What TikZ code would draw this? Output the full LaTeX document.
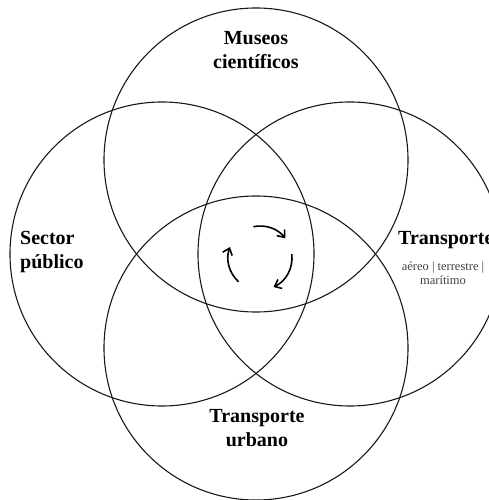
\documentclass[tikz,border=0pt]{standalone}
\usepackage{fontspec}
\setmainfont{Liberation Serif}
\usetikzlibrary{arrows.meta}

\tikzset{
  venn/.style={draw=black!90, line width=1.1pt, circle, minimum size=304pt, inner sep=0pt},
  titel/.style={font=\bfseries\fontsize{20}{24}\selectfont, align=center, inner sep=0pt},
  sublabel/.style={font=\fontsize{12.5}{14}\selectfont, text=black!75, align=center, inner sep=0pt},
  flecha/.style={line width=1.6pt, -{Straight Barb[length=6pt,width=10pt]}}
}

\begin{document}
\begin{tikzpicture}[x=1pt,y=1pt]
\useasboundingbox (0,0) rectangle (489,500);
\foreach \nm/\xa/\ya in {museos/256/340, sector/162/246, transp/350/246, urbano/256/152} {
	\node[venn] (c\nm) at (\xa,\ya) {};
}

\node[titel] (lmuseos) at (256,450) {Museos\\científicos};
\node[titel, align=left, anchor=west] (lsector) at (20,248) {Sector\\público};
\node[titel, anchor=west] (ltransp) at (398,260) {Transporte};
\node[sublabel] (lmodos) at (443,227) {aéreo | terrestre |\\marítimo};
\node[titel] (lurbano) at (257,72) {Transporte\\urbano};

\coordinate (ciclo) at (260,242);
\foreach \sa/\ea in {102/38, 7/-65, 228/160} {
	\draw[flecha] ([shift={(\sa:32)}]ciclo) arc[start angle=\sa, end angle=\ea, radius=32];
}
\end{tikzpicture}
\end{document}
